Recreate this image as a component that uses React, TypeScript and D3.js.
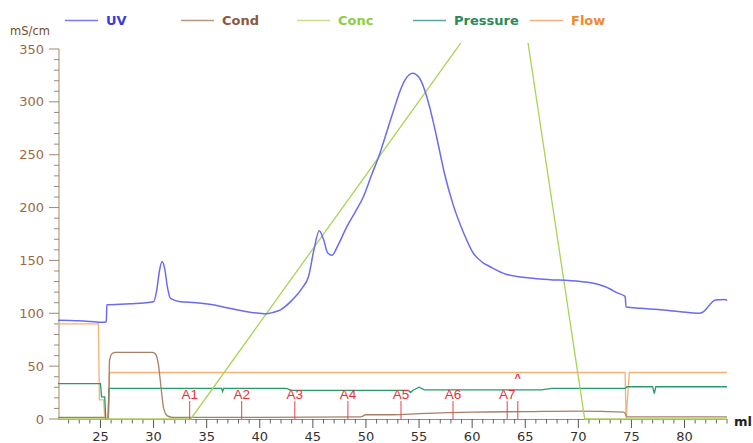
import React from "react";
import * as d3 from "d3";

const W = 753;
const H = 443;

const uvData: [number, number][] = [
  [21, 93.5], [23, 93], [25.4, 91.5], [25.55, 92], [25.6, 108], [27.8, 109], [30.0, 111],
  [30.3, 122], [30.55, 140], [30.8, 149], [31.05, 142], [31.3, 125], [31.6, 114], [32.5, 111],
  [34, 110], [35.6, 108], [37, 105], [38.8, 101.5], [40, 100], [40.6, 99.5], [41.3, 101],
  [41.9, 103], [43, 112], [44, 124], [44.6, 135], [45.1, 160], [45.6, 178], [46.0, 170],
  [46.4, 157], [46.8, 155], [47.4, 165], [48.2, 182], [49, 196], [49.75, 210], [50.5, 230],
  [51.3, 251], [52, 273], [52.7, 295], [53.2, 310], [53.7, 321], [54.4, 327], [55, 323],
  [55.5, 312], [56.0, 295], [56.65, 267], [57.4, 232], [58.2, 203], [59.2, 176], [60.1, 157],
  [61, 148], [61.7, 144], [63.2, 137], [66.4, 132.5], [70.2, 130], [72.0, 127], [73.0, 123],
  [73.6, 119.5], [74.4, 116], [74.5, 106], [75.8, 104.7], [77.5, 103.5], [79.6, 101.5],
  [81.4, 100], [81.8, 101.5], [82.1, 104.7], [82.5, 109.5], [82.9, 112.6], [83.8, 113], [84, 112],
];

const condData: [number, number][] = [
  [21, 1.5], [25.3, 1.5], [25.6, 0], [25.75, 0], [25.85, 55], [26.1, 62], [26.4, 63], [29.9, 63],
  [30.2, 61], [30.45, 52], [30.7, 30], [30.95, 10], [31.3, 3], [31.8, 1.5], [40, 1.5],
  [49.5, 2], [50, 4], [52.5, 4], [55, 5], [60, 6.5], [65, 7], [70, 7.5], [74.3, 6.5],
  [74.6, 2], [84, 2],
];

const concData: [number, number][] = [
  [21, 0], [33.5, 0], [62.1, 400], [64.6, 400], [70.6, 0], [84, 0],
];

const pressureData: [number, number][] = [
  [21, 33.5], [25.0, 33.5], [25.1, 21], [25.4, 21], [25.5, 0], [25.7, 0], [25.8, 29],
  [36.4, 29], [36.5, 26], [36.6, 29], [42.5, 29], [43, 27], [54, 27], [54.2, 25], [54.4, 27],
  [55, 30], [55.5, 27.5], [66.5, 27.5], [67.5, 29], [74.4, 29], [74.6, 30.5], [77, 30.5],
  [77.15, 24], [77.3, 30.5], [84, 30.5],
];

const flowData: [number, number][] = [
  [21, 90], [24.8, 90], [24.9, 18], [25.3, 18], [25.4, 0], [25.75, 0], [25.85, 44],
  [74.4, 44], [74.5, 0], [74.8, 44], [84, 44],
];

const fractionPos = [33.4, 38.3, 43.3, 48.3, 53.3, 58.2, 63.3, 64.3];
const fractionLabels = ["A1", "A2", "A3", "A4", "A5", "A6", "A7", ""];
const injectMark: [number, number] = [64.3, 43];

const xMajor = [25, 30, 35, 40, 45, 50, 55, 60, 65, 70, 75, 80];
const yMajor = [0, 50, 100, 150, 200, 250, 300, 350];

const legendItems = [
  { name: "UV", line: "#7b7bf0", text: "#3a3ae0", x: 65 },
  { name: "Cond", line: "#b89680", text: "#8b5a3c", x: 181 },
  { name: "Conc", line: "#c4e08a", text: "#8ccf3c", x: 297 },
  { name: "Pressure", line: "#5aa8a0", text: "#2a8a5a", x: 413 },
  { name: "Flow", line: "#f5b080", text: "#f08a30", x: 530 },
];

export default function App() {
  const x = d3.scaleLinear().domain([21, 84]).range([58, 727]);
  const y = d3.scaleLinear().domain([0, 350]).range([419, 49]);

  const lineMono = d3
    .line<[number, number]>()
    .x((d) => x(d[0]))
    .y((d) => y(d[1]))
    .curve(d3.curveMonotoneX);
  const lineLin = d3
    .line<[number, number]>()
    .x((d) => x(d[0]))
    .y((d) => y(d[1]));

  const minor = d3.range(22, 85, 1).filter((v) => v % 5 !== 0);
  const yMinor = d3.range(10, 351, 10).filter((v) => v % 50 !== 0);
  const axisColor = "#a08870";
  const font = "'DejaVu Sans', sans-serif";

  return (
    <svg
      width={W}
      height={H}
      style={{ position: "absolute", left: 0, top: 0, background: "#fff" }}
    >
      <defs>
        <clipPath id="plot">
          <rect x={58} y={43} width={670} height={380} />
        </clipPath>
      </defs>

      {/* legend */}
      {legendItems.map((l) => (
        <g key={l.name}>
          <line x1={l.x} x2={l.x + 33} y1={20.5} y2={20.5} stroke={l.line} strokeWidth={1.5} />
          <text x={l.x + 41} y={25} fill={l.text} fontFamily={font} fontWeight="bold" fontSize={13}>
            {l.name}
          </text>
        </g>
      ))}

      <text x={10} y={35} fill="#7a4a2a" fontFamily={font} fontSize={11.5}>
        mS/cm
      </text>

      {/* y axis */}
      <line x1={59} x2={59} y1={49} y2={419} stroke={axisColor} strokeWidth={1} />
      {yMajor.map((v) => (
        <g key={"ym" + v}>
          <line x1={49} x2={59} y1={y(v)} y2={y(v)} stroke={axisColor} />
          <text
            x={44}
            y={y(v) + 4.5}
            textAnchor="end"
            fill="#9b6a44"
            fontFamily={font}
            fontSize={13}
          >
            {v}
          </text>
        </g>
      ))}
      {yMinor.map((v) => (
        <line key={"yn" + v} x1={54} x2={59} y1={y(v)} y2={y(v)} stroke={axisColor} />
      ))}

      {/* x axis */}
      <line x1={58} x2={727} y1={419.5} y2={419.5} stroke={axisColor} strokeWidth={1} />
      {xMajor.map((v) => (
        <g key={"xm" + v}>
          <line x1={x(v)} x2={x(v)} y1={419} y2={428} stroke="#555" />
          <text
            x={x(v)}
            y={441}
            textAnchor="middle"
            fill="#333"
            fontFamily={font}
            fontSize={13}
          >
            {v}
          </text>
        </g>
      ))}
      {minor.map((v) => (
        <line key={"xn" + v} x1={x(v)} x2={x(v)} y1={419} y2={423.5} stroke="#666" />
      ))}
      <text x={734} y={426} fill="#222" fontFamily={font} fontWeight="bold" fontSize={13}>
        ml
      </text>

      <g clipPath="url(#plot)" fill="none">
        <path d={lineLin(flowData) || ""} stroke="#f4b27a" strokeWidth={1.3} />
        <path d={lineLin(pressureData) || ""} stroke="#2a9a6a" strokeWidth={1.3} />
        <path d={lineMono(condData) || ""} stroke="#a88068" strokeWidth={1.3} />
        <path d={lineLin(concData) || ""} stroke="#a8d455" strokeWidth={1.3} />
        <path d={lineMono(uvData) || ""} stroke="#6b6bf0" strokeWidth={1.5} />
      </g>

      {/* fractions */}
      {fractionPos.map((v, i) => (
        <g key={"f" + i}>
          <line x1={x(v)} x2={x(v)} y1={y(17)} y2={y(0)} stroke="#e8404a" strokeWidth={1} />
          {fractionLabels[i] && (
            <text
              x={x(v)}
              y={399}
              textAnchor="middle"
              fill="#e8303a"
              fontFamily="'Liberation Sans', Arial, sans-serif"
              fontSize={13.5}
            >
              {fractionLabels[i]}
            </text>
          )}
        </g>
      ))}
      <text
        x={x(injectMark[0])}
        y={y(injectMark[1]) + 8}
        textAnchor="middle"
        fill="#e8303a"
        fontFamily="'Liberation Sans', Arial, sans-serif"
        fontWeight="bold"
        fontSize={11}
      >
        ^
      </text>
    </svg>
  );
}
